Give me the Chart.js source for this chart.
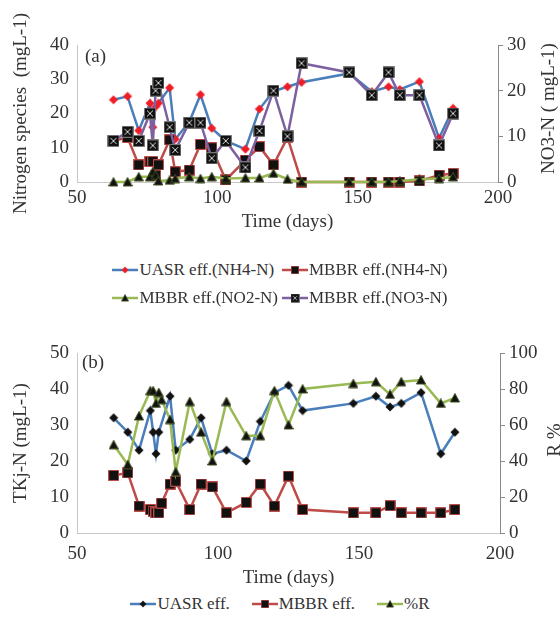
<!DOCTYPE html>
<html>
<head>
<meta charset="utf-8">
<script src="https://cdn.jsdelivr.net/npm/chart.js"></script>
<style>
  html, body { margin: 0; padding: 0; background: #fff; }
  body { width: 560px; height: 618px; position: relative; overflow: hidden;
         font-family: "Liberation Serif", "Times New Roman", serif; color: #333; }
  canvas.chart { position: absolute; left: 0; }
  .legend { position: absolute; left: 0; width: 560px; display: flex; justify-content: center; }
  .legend-a { display: grid; grid-template-columns: auto auto; column-gap: 4px; row-gap: 4px; }
  .legend-b { display: flex; column-gap: 22px; }
  .item { display: flex; align-items: center; height: 24px; font-size: 17px; white-space: nowrap; }
  .item canvas { margin-right: 1px; }
</style>
</head>
<body>
<canvas id="chartA" class="chart" width="560" height="240" style="top:0"></canvas>
<div class="legend" style="top:258px"><div id="legendA" class="legend-a"></div></div>
<canvas id="chartB" class="chart" width="560" height="270" style="top:320px"></canvas>
<div class="legend" style="top:592px"><div id="legendB" class="legend-b"></div></div>

<script>
// panel (a): nitrogen species vs time
const daysA = [63, 68, 72, 76, 77, 78, 79, 83, 85, 90, 94, 98, 103, 110, 115, 120, 125, 130, 147, 155, 161, 165, 172, 179, 184];
const uasrNH4 = [24, 25, 15, 23, 16, 22, 23, 27.5, 12.5, 17.5, 25.5, 15.7, 12, 9.6, 21.3, 26.5, 27.8, 29.1, 31.7, 26.4, 27.8, 27, 29.3, 12.8, 21.5];
const mbbrNH4 = [12, 13, 5, 6, 6, 2, 5, 12.3, 3, 3.5, 11, 10, 0.6, 6.4, 10.3, 5, 13, 0, 0, 0, 0, 0, 0.3, 2, 2.5];
const mbbrNO2 = [0, 0, 1.5, 1.5, 3, 2, 0.3, 0.5, 1, 1.5, 1, 1.5, 1, 1.2, 1.2, 2.5, 0.8, 0, 0, 0, 0, 0.3, 0.8, 1, 1.5];
const mbbrNO3 = [9, 11, 9, 15, 8, 20, 21.7, 12, 7, 13, 13, 5.2, 9, 3.2, 11.2, 20, 10, 26, 24, 19, 24, 19, 19, 8, 15];

// panel (b): TKN and removal
const daysB = [63, 68, 72, 76, 77, 78, 79, 80, 83, 85, 90, 94, 98, 103, 110, 115, 120, 125, 130, 148, 156, 161, 165, 172, 179, 184];
const uasrTKN = [32, 28, 23, 34, 28, 22, 28, null, 38, 23, 26, 32, 22, 23, 20, 31, 39, 41, 34, 36, 38, 35, 36, 39, 22, 28];
const mbbrTKN = [16, 16.7, 7.5, 6.5, 6, 5.6, 5.6, 8.3, 13.6, 14.4, 6.5, 13.6, 12.8, 5.6, 8.5, 13.6, 7.5, 15.8, 6.5, 5.6, 5.6, 7.6, 5.6, 5.6, 5.6, 6.5];
const removal = [49, 38, 65, 79, 79, 72, 78, 74, 63, 34, 73, 56, 40, 73, 54, 54, 79, 60, 80, 83, 84, 77, 84, 85, 72, 75];

const xTicks = [50, 100, 150, 200];

const BLUE = '#4a7ebb', RED = '#be4b48', GREEN = '#98b954', PURPLE = '#7d60a0';
const TXT = '#333';
const tickFont = { family: '"Liberation Serif", "Times New Roman", serif', size: 19 };
const titleFont = { family: '"Liberation Serif", "Times New Roman", serif', size: 19 };

// marker images
function marker(kind, size, fill, stroke) {
  const c = document.createElement('canvas');
  c.width = size; c.height = size;
  const g = c.getContext('2d');
  const m = size / 2, e = 0.5;
  g.beginPath();
  if (kind === 'diamond') {
    g.moveTo(m, e); g.lineTo(size - e, m); g.lineTo(m, size - e); g.lineTo(e, m);
  } else if (kind === 'triangle') {
    g.moveTo(m, e); g.lineTo(size - e, size - 1); g.lineTo(e, size - 1);
  } else {
    g.rect(e, e, size - 1, size - 1);
  }
  g.closePath();
  g.fillStyle = fill; g.fill();
  if (stroke) { g.strokeStyle = stroke; g.lineWidth = 1; g.stroke(); }
  if (kind === 'squareX') {
    g.strokeStyle = '#d8d8d8'; g.lineWidth = 1;
    g.beginPath();
    g.moveTo(3, 3); g.lineTo(size - 3, size - 3);
    g.moveTo(size - 3, 3); g.lineTo(3, size - 3);
    g.stroke();
  }
  return c;
}

function pts(days, vals) {
  return days.map((d, i) => ({ x: d, y: vals[i] }));
}

function line(label, days, vals, color, style, axis, order) {
  return {
    label: label,
    data: pts(days, vals),
    borderColor: color,
    backgroundColor: color,
    borderWidth: 2.5,
    pointStyle: style,
    pointRadius: 5,
    tension: 0,
    spanGaps: true,
    clip: false,
    yAxisID: axis,
    order: order
  };
}

const panelText = {
  id: 'panelText',
  afterDraw(chart, args, opts) {
    const { ctx, chartArea } = chart;
    ctx.save();
    ctx.fillStyle = TXT;
    ctx.font = '19px "Liberation Serif"';
    ctx.textBaseline = 'middle';
    ctx.fillText(opts.tag, chartArea.left + opts.tagX, chartArea.top + opts.tagY);
    ctx.translate(opts.titleX, (chartArea.top + chartArea.bottom) / 2 + opts.titleShift);
    ctx.rotate(-Math.PI / 2);
    ctx.textAlign = 'center';
    ctx.fillText(opts.title, 0, 0);
    ctx.restore();
  }
};

function scales(leftMax, leftStep, leftTitle, rightMax, rightStep, rightW, xH, xTickPad, xTitlePad) {
  return {
    x: {
      type: 'linear', min: 50, max: 200,
      afterBuildTicks: s => { s.ticks = xTicks.map(v => ({ value: v })); },
      ticks: { color: TXT, font: tickFont, padding: xTickPad, maxRotation: 0 },
      grid: { display: false, drawTicks: false },
      border: { color: '#c8c8c8' },
      title: { display: true, text: 'Time (days)', color: TXT, font: titleFont, padding: { top: 0, bottom: xTitlePad } },
      afterFit: s => { s.height = xH; }
    },
    y: {
      position: 'left', min: 0, max: leftMax,
      ticks: { stepSize: leftStep, color: TXT, font: tickFont, padding: 8 },
      grid: { display: false, drawTicks: false },
      border: { color: '#c8c8c8' },
      title: { display: true, text: leftTitle, color: TXT, font: titleFont, padding: { top: 10, bottom: 0 } },
      afterFit: s => { s.width = 77; }
    },
    y1: {
      position: 'right', min: 0, max: rightMax,
      ticks: { stepSize: rightStep, color: TXT, font: tickFont, padding: 4 },
      grid: { drawOnChartArea: false, drawTicks: true, tickLength: 5, color: '#8a8a8a' },
      border: { color: '#8a8a8a' },
      afterFit: s => { s.width = rightW; }
    }
  };
}

const chartA = new Chart(document.getElementById('chartA'), {
  type: 'line',
  data: {
    datasets: [
      line('UASR eff.(NH4-N)', daysA, uasrNH4, BLUE, marker('diamond', 10, '#ee1c25'), 'y', 3),
      line('MBBR eff.(NH4-N)', daysA, mbbrNH4, RED, marker('square', 11, '#111', RED), 'y', 2),
      line('MBBR eff.(NO2-N)', daysA, mbbrNO2, GREEN, marker('triangle', 10, '#111', '#3d4d20'), 'y', 1),
      line('MBBR eff.(NO3-N)', daysA, mbbrNO3, PURPLE, marker('squareX', 12, '#111', '#777'), 'y1', 0)
    ]
  },
  options: {
    responsive: false,
    animation: false,
    devicePixelRatio: 1,
    layout: { padding: { top: 45, right: 0, bottom: 0, left: 0 } },
    plugins: {
      legend: { display: false },
      tooltip: { enabled: false },
      panelText: { tag: '(a)', tagX: 8, tagY: 12, title: 'NO3-N ( mgL-1)', titleX: 549, titleShift: -5 }
    },
    scales: scales(40, 10, 'Nitrogen species  (mgL-1)', 30, 10, 62, 58, 5, 7)
  },
  plugins: [panelText]
});

const chartB = new Chart(document.getElementById('chartB'), {
  type: 'line',
  data: {
    datasets: [
      line('UASR eff.', daysB, uasrTKN, BLUE, marker('diamond', 10, '#111'), 'y', 2),
      line('MBBR eff.', daysB, mbbrTKN, RED, marker('square', 11, '#111', RED), 'y', 1),
      line('%R', daysB, removal, GREEN, marker('triangle', 10, '#111', '#3d4d20'), 'y1', 0)
    ]
  },
  options: {
    responsive: false,
    animation: false,
    devicePixelRatio: 1,
    layout: { padding: { top: 33, right: 0, bottom: 0, left: 0 } },
    plugins: {
      legend: { display: false },
      tooltip: { enabled: false },
      panelText: { tag: '(b)', tagX: 5, tagY: 10, title: 'R %', titleX: 555, titleShift: -3 }
    },
    scales: scales(50, 10, 'TKj-N (mgL-1)', 100, 20, 60, 57, 10, 1)
  },
  plugins: [panelText]
});

// html legends built from the datasets
function buildLegend(chart, el) {
  chart.data.datasets.forEach(ds => {
    const item = document.createElement('div');
    item.className = 'item';
    const c = document.createElement('canvas');
    c.width = 26; c.height = 14;
    const g = c.getContext('2d');
    g.strokeStyle = ds.borderColor; g.lineWidth = 2.5;
    g.beginPath(); g.moveTo(0, 7); g.lineTo(26, 7); g.stroke();
    const m = ds.pointStyle, w = m.width * 0.75, h = m.height * 0.75;
    g.drawImage(m, 13 - w / 2, 7 - h / 2, w, h);
    const t = document.createElement('span');
    t.textContent = ds.label;
    item.appendChild(c); item.appendChild(t);
    el.appendChild(item);
  });
}
buildLegend(chartA, document.getElementById('legendA'));
buildLegend(chartB, document.getElementById('legendB'));
</script>
</body>
</html>
